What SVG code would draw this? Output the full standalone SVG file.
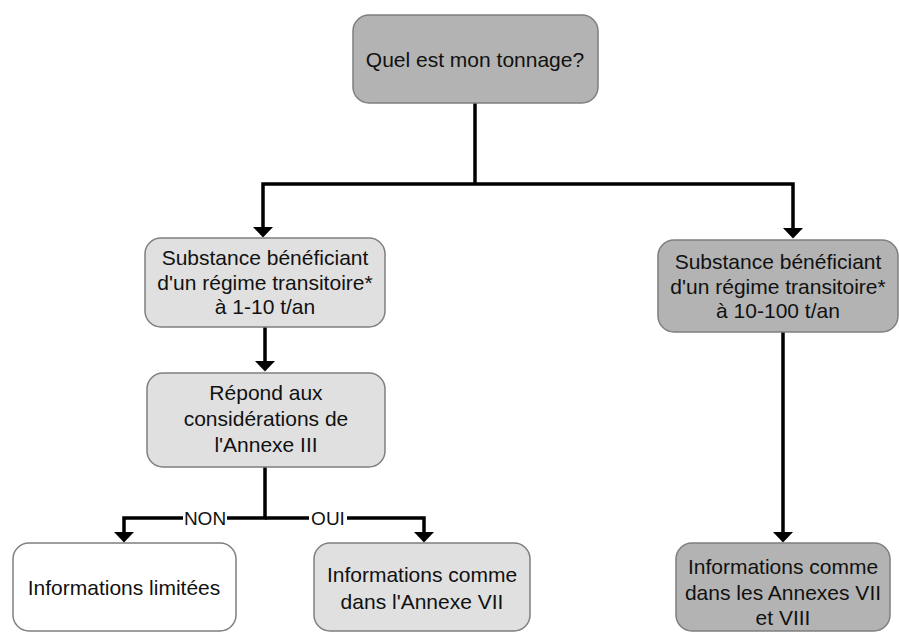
<svg xmlns="http://www.w3.org/2000/svg" width="899" height="632" viewBox="0 0 899 632">
<style>
.box{stroke:#7f7f7f;stroke-width:1.5}
.dark{fill:#b3b3b3}
.light{fill:#e0e0e0}
.white{fill:#ffffff}
text{font-family:"Liberation Sans",Arial,sans-serif;font-size:21px;fill:#111;text-anchor:middle}
.lbl{font-size:19px}
.conn{fill:none;stroke:#000;stroke-width:3.5}
</style>
<defs>
<marker id="arr" markerWidth="11" markerHeight="21" refX="0.5" refY="10.5" orient="auto" markerUnits="userSpaceOnUse">
<path d="M0,0 L11,10.5 L0,21 z" fill="#000"/>
</marker>
</defs>
<rect width="899" height="632" fill="#fff"/>
<g id="connectors">
<path class="conn" d="M475,103 V184"/>
<path class="conn" d="M475,184 H263 V227" marker-end="url(#arr)"/>
<path class="conn" d="M475,184 H793 V228" marker-end="url(#arr)"/>
<path class="conn" d="M265,327 V361" marker-end="url(#arr)"/>
<path class="conn" d="M265,467 V518 H124 V532" marker-end="url(#arr)"/>
<path class="conn" d="M265,518 H424 V532" marker-end="url(#arr)"/>
<path class="conn" d="M783,332 V532" marker-end="url(#arr)"/>
<rect x="183" y="508" width="44" height="20" fill="#fff"/>
<text class="lbl" x="205" y="525">NON</text>
<rect x="309" y="508" width="38" height="20" fill="#fff"/>
<text class="lbl" x="328" y="525">OUI</text>
</g>
<g id="n1">
<rect class="box dark" x="353" y="15" width="245" height="88" rx="16"/>
<text x="475" y="67">Quel est mon tonnage?</text>
</g>
<g id="n2">
<rect class="box light" x="145" y="238" width="240" height="89" rx="16"/>
<text x="265" y="265">Substance bénéficiant</text>
<text x="265" y="290">d'un régime transitoire*</text>
<text x="265" y="314">à 1-10 t/an</text>
</g>
<g id="n3">
<rect class="box dark" x="658" y="240" width="240" height="92" rx="16"/>
<text x="778" y="269">Substance bénéficiant</text>
<text x="778" y="294">d'un régime transitoire*</text>
<text x="778" y="318">à 10-100 t/an</text>
</g>
<g id="n4">
<rect class="box light" x="147" y="373" width="238" height="94" rx="16"/>
<text x="266" y="400">Répond aux</text>
<text x="266" y="426">considérations de</text>
<text x="266" y="452">l'Annexe III</text>
</g>
<g id="n5">
<rect class="box white" x="13" y="543" width="223" height="88" rx="16"/>
<text x="124" y="595">Informations limitées</text>
</g>
<g id="n6">
<rect class="box light" x="314" y="543" width="216" height="88" rx="16"/>
<text x="422" y="582">Informations comme</text>
<text x="422" y="609">dans l'Annexe VII</text>
</g>
<g id="n7">
<rect class="box dark" x="676" y="543" width="214" height="88" rx="16"/>
<text x="783" y="574">Informations comme</text>
<text x="783" y="600">dans les Annexes VII</text>
<text x="783" y="625">et VIII</text>
</g>
</svg>
